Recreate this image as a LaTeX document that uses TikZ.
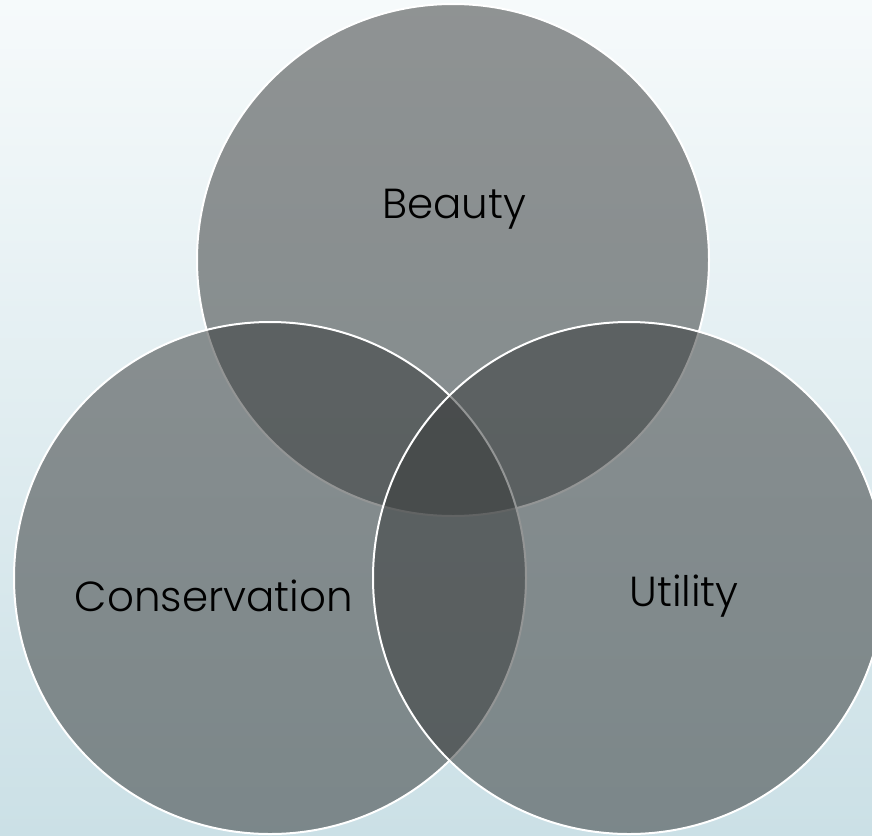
\documentclass[tikz,border=0pt]{standalone}
\usepackage{fontspec}
\setmainfont{Poppins}[UprightFont={* Light}]
\usetikzlibrary{positioning}

\definecolor{bgtop}{RGB}{246,250,251}
\definecolor{bgbottom}{RGB}{203,224,230}
\definecolor{setgray}{RGB}{57,60,60}

\begin{document}
\begin{tikzpicture}[x=1pt,y=-1pt,
    setcircle/.style={circle,draw=white,line width=2pt,fill=setgray,fill opacity=0.54,minimum size=512pt,inner sep=0pt},
    setlabel/.style={font=\fontsize{42}{50}\selectfont,text=black}]
    \useasboundingbox (0,0) rectangle (872,835);
    \shade [top color=bgtop,bottom color=bgbottom] (0,0) rectangle (872,835);

    \node [setcircle] (beauty)       at (453,260) {};
    \node [setcircle] (conservation) at (270,578) {};
    \node [setcircle] (utility)      at (629,578) {};

    \node [setlabel] (beautytext)       at (454,209) {Beauty};
    \node [setlabel] (conservationtext) at (214,596) {Conservation};
    \node [setlabel] (utilitytext)      at (684,596) {Utility};
  \end{tikzpicture}
\end{document}
